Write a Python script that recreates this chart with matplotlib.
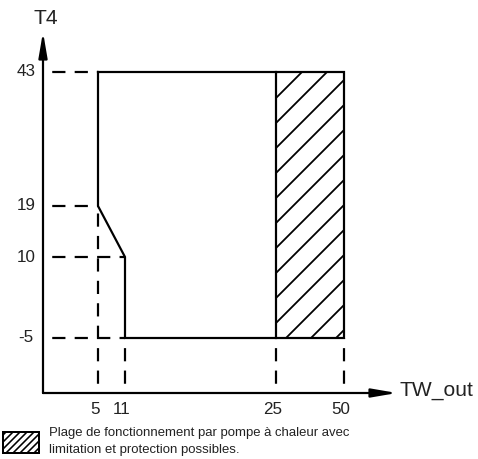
import numpy as np
import matplotlib
matplotlib.use("Agg")
import matplotlib.pyplot as plt
from matplotlib.patches import FancyArrowPatch, Rectangle
from matplotlib.collections import LineCollection
from matplotlib.transforms import IdentityTransform

# ---- data ----
x_ticks = [5, 11, 25, 50]
y_ticks = [43, 19, 10, -5]
# operating envelope boundary (TW_out, T4)
env_x = [5, 50, 50, 11, 11, 5, 5]
env_y = [43, 43, -5, -5, 10, 19, 43]
# hatched zone (limited operation)
hatch_x = [25, 50]
hatch_y = [-5, 43]
# where each dashed guide meets the envelope
h_guide_end = [5, 5, 11, 11]      # for y_ticks
v_guide_end = [19, -5, -5, -5]    # for x_ticks
x_label = "TW_out"
y_label = "T4"
legend_text = "Plage de fonctionnement par pompe à chaleur avec\nlimitation et protection possibles."

# ---- layout (schematic, non-linear axes) ----
DPI = 150
W, H = 478, 459
plt.rcParams['font.family'] = ['Liberation Sans', 'DejaVu Sans']
pt = 72.0 / DPI  # points per pixel

xb = [0, 5, 11, 25, 50, 60]
xp = [0, 55, 82, 233, 301, 354]
yb = [-15, -5, 10, 19, 43, 55]
yp = [0, 55, 136, 187, 321, 361]

def fx(v): return np.interp(v, xb, xp)
def ix(v): return np.interp(v, xp, xb)
def fy(v): return np.interp(v, yb, yp)
def iy(v): return np.interp(v, yp, yb)

fig = plt.figure(figsize=(W / DPI, H / DPI), dpi=DPI)
ax = fig.add_axes([43 / W, 66 / H, 354 / W, 361 / H])
ax.set_xscale('function', functions=(fx, ix))
ax.set_yscale('function', functions=(fy, iy))
x0, x1 = xb[0], xb[-1]
y0, y1 = yb[0], yb[-1]
ax.set_xlim(x0, x1)
ax.set_ylim(y0, y1)
ax.axis('off')

lw = 2.2 * pt
txtc = '#222222'


def diag_hatch(rx0, ry0, rx1, ry1, spacing, phase, lwpx):
    """45-degree hatch lines (display pixels) inside a rectangle."""
    segs = []
    cmin, cmax = rx0 - ry1, rx1 - ry0
    k0 = np.ceil((cmin - phase) / spacing)
    c = phase + k0 * spacing
    while c < cmax:
        ya = max(ry0, rx0 - c)
        yb_ = min(ry1, rx1 - c)
        if yb_ > ya:
            segs.append([(ya + c, ya), (yb_ + c, yb_)])
        c += spacing
    lc = LineCollection(segs, colors='black', linewidths=lwpx * pt,
                        transform=IdentityTransform(), capstyle='butt')
    fig.add_artist(lc)


# hatched region (drawn in display space so it stays straight)
(px0, py0), (px1, py1) = ax.transData.transform([(hatch_x[0], hatch_y[0]),
                                                 (hatch_x[1], hatch_y[1])])
diag_hatch(px0, py0, px1, py1, 25, -85, 1.8)
ax.plot([hatch_x[0], hatch_x[0]], hatch_y, color='black', lw=lw,
        solid_capstyle='projecting')
# envelope
ax.plot(env_x, env_y, color='black', lw=lw, solid_joinstyle='miter',
        solid_capstyle='projecting', clip_on=False)

# dashed guides
dls = (6.0, (6.0, 4.2))
for yv, xe in zip(y_ticks, h_guide_end):
    ax.plot([x0, xe], [yv, yv], color='black', lw=lw, linestyle=dls, clip_on=False)
for xv, ye in zip(x_ticks, v_guide_end):
    ax.plot([xv, xv], [y0, ye], color='black', lw=lw, linestyle=dls, clip_on=False)

# axes arrows
for a, b in [((x0, y0), (x1, y0)), ((x0, y0), (x0, y1))]:
    arr = FancyArrowPatch(a, b, arrowstyle='-|>,head_length=%.2f,head_width=%.2f' % (21 * pt, 3.6 * pt),
                          mutation_scale=1, color='black', lw=lw,
                          shrinkA=0, shrinkB=0, transform=ax.transData, clip_on=False)
    ax.add_patch(arr)

# tick labels
fs_tick = 17 * pt
for yv in y_ticks:
    ax.annotate(str(yv), xy=(x0, yv), xytext=(-17, 0), textcoords='offset pixels',
                ha='center', va='center', fontsize=fs_tick, color=txtc)
for xv in x_ticks:
    ax.annotate(str(xv), xy=(xv, y0), xytext=(-3, -16), textcoords='offset pixels',
                ha='center', va='center', fontsize=fs_tick, color=txtc)

# axis labels
fig.text(46 / W, 1 - 18 / H, y_label, ha='center', va='center', fontsize=21 * pt, color=txtc)
fig.text(399 / W, 1 - 390 / H, x_label, ha='left', va='center', fontsize=21 * pt, color=txtc)

# legend swatch + text
lx0, ly0, lx1, ly1 = 3, H - 453, 39, H - 432
diag_hatch(lx0, ly0, lx1, ly1, 7, 0, 1.6)
fig.patches.append(Rectangle((lx0 / W, ly0 / H), (lx1 - lx0) / W, (ly1 - ly0) / H,
                             transform=fig.transFigure, facecolor='none',
                             edgecolor='black', lw=2.0 * pt))
fig.text(49 / W, 1 - 441.5 / H, legend_text, ha='left', va='center', fontsize=13.2 * pt,
         color=txtc, linespacing=1.45)

fig.savefig('out.png', dpi=DPI)
